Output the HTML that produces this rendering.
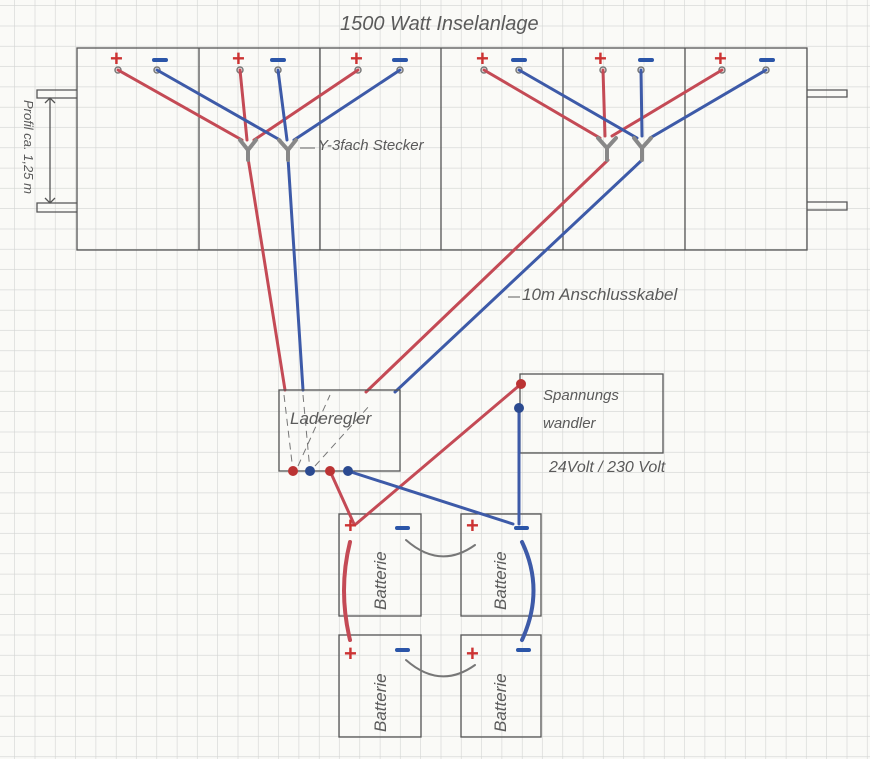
<!DOCTYPE html>
<html><head><meta charset="utf-8"><style>
html,body{margin:0;padding:0;background:#fafaf7;}
svg{display:block}
text{font-family:"Liberation Sans",sans-serif;fill:#5a5a5a;font-style:italic}
</style></head><body>
<svg width="870" height="759" viewBox="0 0 870 759" xmlns="http://www.w3.org/2000/svg">
<defs>
<pattern id="g" width="20.3" height="20.3" patternUnits="userSpaceOnUse" x="-5.3" y="6">
<path d="M20.3 0V20.3M0 20.3H20.3" stroke="#d2d4d2" stroke-width="1.2" fill="none"/>
</pattern>
</defs>
<rect width="870" height="759" fill="#fafaf7"/>
<rect width="870" height="759" fill="url(#g)"/>

<text x="340" y="30" font-size="20">1500 Watt Inselanlage</text>

<g stroke="#555" stroke-width="1.3" fill="none">
<rect x="77" y="48" width="730" height="202"/>
<path d="M199 48V250M320 48V250M441 48V250M563 48V250M685 48V250"/>
<path d="M77 90H37V98H77M77 203H37V212H77"/>
<path d="M807 90H847V97H807M807 202H847V210H807"/>
<path d="M50 98V203M45 103L50 98L55 103M45 198L50 203L55 198"/>
</g>
<text x="0" y="0" font-size="13" transform="translate(24,100) rotate(90)">Profil ca. 1,25 m</text>

<g font-weight="bold" font-size="22">
<text x="110" y="66" style="fill:#c33;font-style:normal">+</text>
<text x="232" y="66" style="fill:#c33;font-style:normal">+</text>
<text x="350" y="66" style="fill:#c33;font-style:normal">+</text>
<text x="476" y="66" style="fill:#c33;font-style:normal">+</text>
<text x="594" y="66" style="fill:#c33;font-style:normal">+</text>
<text x="714" y="66" style="fill:#c33;font-style:normal">+</text>
</g>
<g stroke="#2b55a8" stroke-width="4" stroke-linecap="round">
<path d="M154 60H166M272 60H284M394 60H406M513 60H525M640 60H652M761 60H773"/>
</g>
<g stroke="#777" stroke-width="1.5" fill="#f7f7f4">
<circle cx="118" cy="70" r="3"/><circle cx="157" cy="70" r="3"/>
<circle cx="240" cy="70" r="3"/><circle cx="278" cy="70" r="3"/>
<circle cx="400" cy="70" r="3"/><circle cx="484" cy="70" r="3"/>
<circle cx="519" cy="70" r="3"/><circle cx="603" cy="70" r="3"/>
<circle cx="641" cy="70" r="3"/><circle cx="722" cy="70" r="3"/>
<circle cx="766" cy="70" r="3"/><circle cx="358" cy="70" r="3"/>
</g>

<g fill="none" stroke-width="3" stroke-linecap="round">
<g stroke="#c44a55">
<path d="M118 70L242 140M240 70L247 140M358 70L254 140M248 158L285 390"/>
<path d="M484 70L600 138M603 70L605 136M722 70L612 136M608 160L366 392"/>
</g>
<g stroke="#3d5aa8">
<path d="M157 70L280 140M278 70L287 140M400 70L294 140M288 158L303 390"/>
<path d="M519 70L637 138M641 70L642 136M766 70L650 138M642 160L395 392"/>
</g>
<g stroke="#888" stroke-width="4">
<path d="M240 140L248 150L256 140M248 150V160M279 140L288 150L296 140M288 150V160"/>
<path d="M598 138L607 148L616 138M607 148V160M634 138L642 148L651 138M642 148V160"/>
</g>
</g>
<path d="M300 148H315" stroke="#777" stroke-width="1.2"/>
<text x="318" y="150" font-size="15">Y-3fach Stecker</text>
<path d="M508 297H520" stroke="#777" stroke-width="1.2"/>
<text x="522" y="300" font-size="17">10m Anschlusskabel</text>

<g stroke="#555" stroke-width="1.3" fill="none">
<rect x="279" y="390" width="121" height="81"/>
<rect x="520" y="374" width="143" height="79"/>
<rect x="339" y="514" width="82" height="102"/>
<rect x="461" y="514" width="80" height="102"/>
<rect x="339" y="635" width="82" height="102"/>
<rect x="461" y="635" width="80" height="102"/>
</g>
<g stroke="#777" stroke-width="1" stroke-dasharray="7,5" fill="none">
<path d="M284 395L293 471M303 395L310 471M298 466L330 395M315 466L370 405"/>
</g>
<text x="290" y="424" font-size="17">Laderegler</text>
<text x="543" y="400" font-size="15">Spannungs</text>
<text x="543" y="428" font-size="15">wandler</text>
<text x="549" y="472" font-size="16">24Volt / 230 Volt</text>

<g fill="none" stroke-width="3" stroke-linecap="round">
<path d="M330 471L354 524M521 384L356 524" stroke="#c44a55"/>
<path d="M348 471L513 524M519 408V524" stroke="#3d5aa8"/>
<path d="M350 542Q338 590 350 640" stroke="#c44a55" stroke-width="4"/>
<path d="M522 542Q545 590 522 640" stroke="#3d5aa8" stroke-width="4"/>
<path d="M406 540Q440 570 475 545M406 660Q440 690 475 665" stroke="#777" stroke-width="2"/>
</g>
<circle cx="293" cy="471" r="5" fill="#b33"/>
<circle cx="310" cy="471" r="5" fill="#2b4a90"/>
<circle cx="330" cy="471" r="5" fill="#b33"/>
<circle cx="348" cy="471" r="5" fill="#2b4a90"/>
<circle cx="521" cy="384" r="5" fill="#b33"/>
<circle cx="519" cy="408" r="5" fill="#2b4a90"/>

<g font-weight="bold" font-size="22">
<text x="344" y="533" style="fill:#c33;font-style:normal">+</text>
<text x="466" y="533" style="fill:#c33;font-style:normal">+</text>
<text x="344" y="661" style="fill:#c33;font-style:normal">+</text>
<text x="466" y="661" style="fill:#c33;font-style:normal">+</text>
</g>
<g stroke="#2b55a8" stroke-width="4" stroke-linecap="round">
<path d="M397 528H408M516 528H527M397 650H408M518 650H529"/>
</g>
<g font-size="17">
<text transform="translate(386,610) rotate(-90)">Batterie</text>
<text transform="translate(506,610) rotate(-90)">Batterie</text>
<text transform="translate(386,732) rotate(-90)">Batterie</text>
<text transform="translate(506,732) rotate(-90)">Batterie</text>
</g>
</svg>
</body></html>
